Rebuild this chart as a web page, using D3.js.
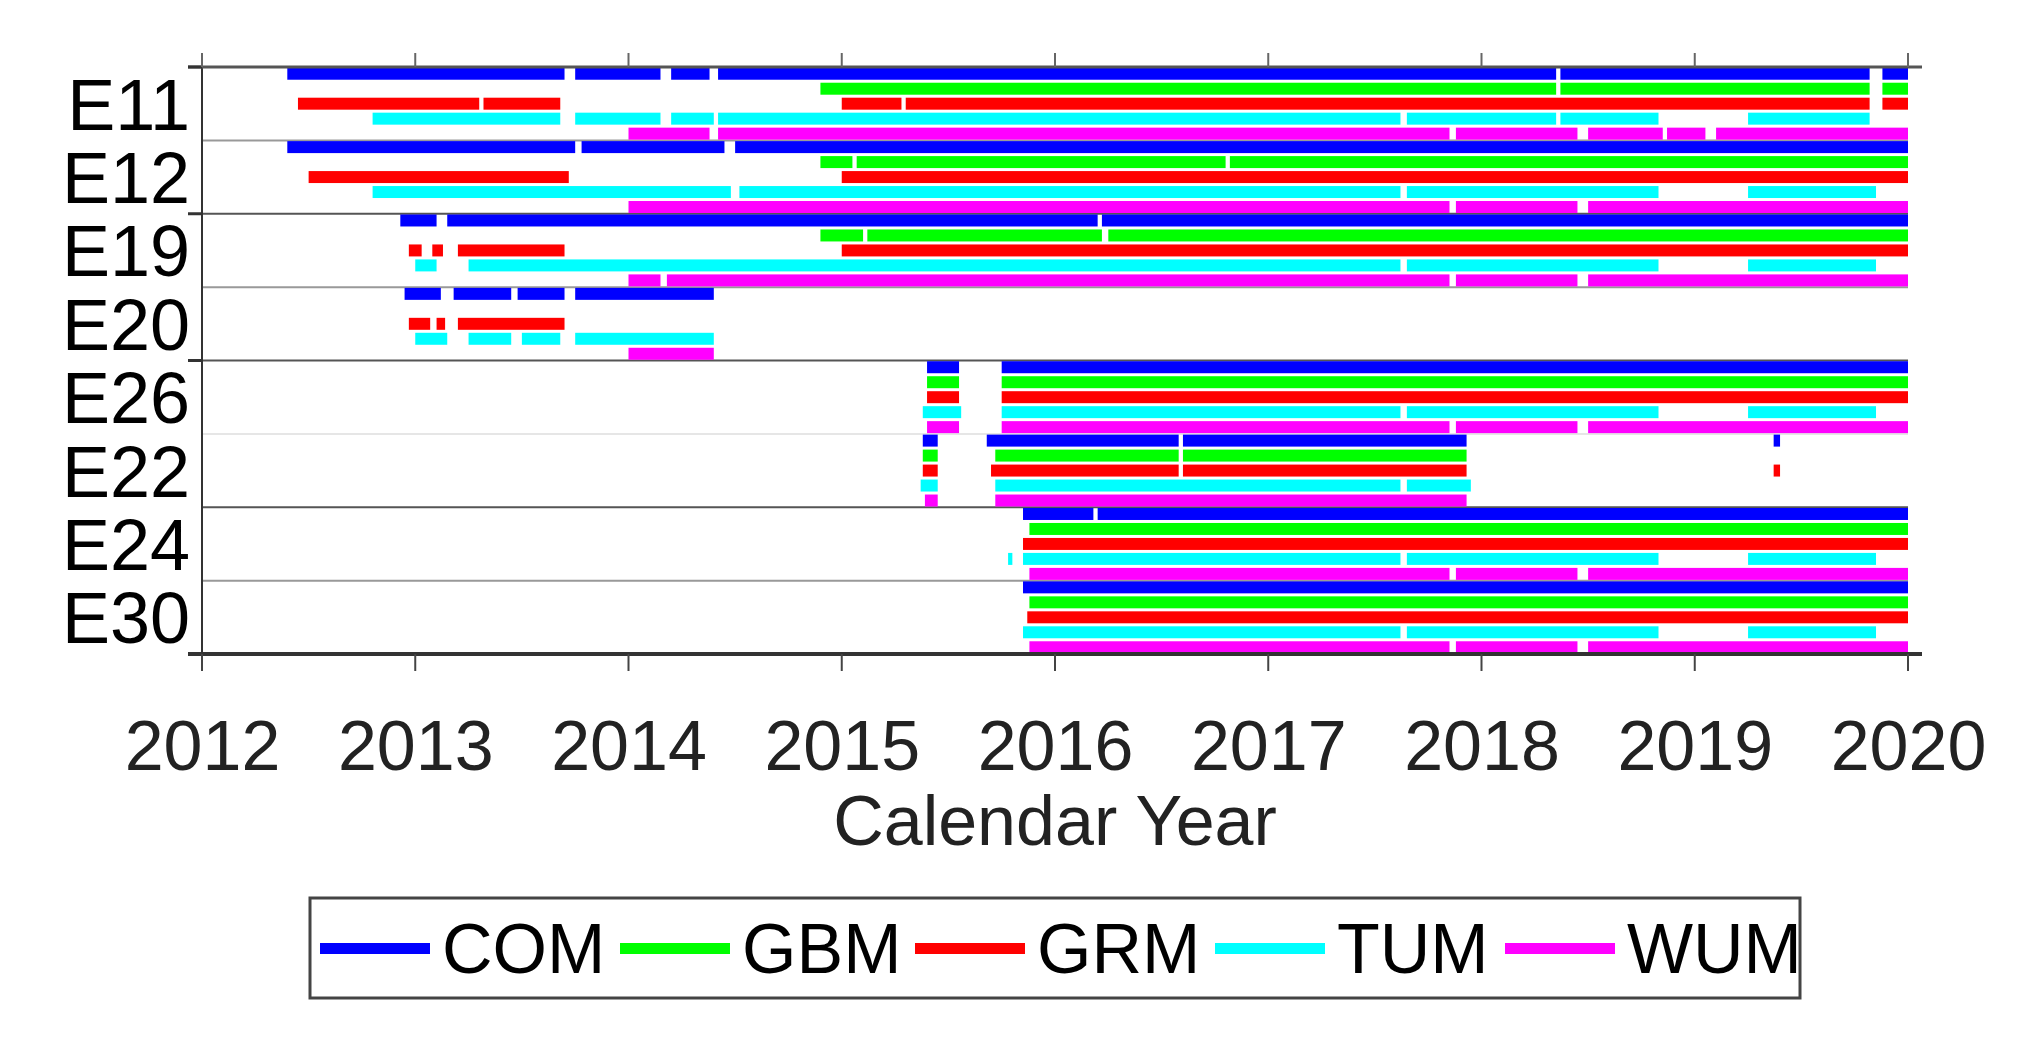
<!DOCTYPE html><html><head><meta charset="utf-8">
<script src="https://cdn.jsdelivr.net/npm/d3@7"></script>
<style>body{margin:0;background:#fff}text{font-family:"Liberation Sans",Arial,sans-serif}</style></head><body>
<svg id="c" width="2019" height="1041"></svg>
<script>
const sensors=["E11","E12","E19","E20","E26","E22","E24","E30"];
const series=["COM","GBM","GRM","TUM","WUM"];
const colors=["#0000ff","#00ff00","#ff0000","#00ffff","#ff00ff"];
const years=[2012,2013,2014,2015,2016,2017,2018,2019,2020];
const tumTail=[[2017.65,2018.83],[2019.25,2019.85]];
const wumTail=[[2018.5,2018.85],[2018.87,2019.05],[2019.1,2020]];
const E11=[[[2012.4,2013.7],[2013.75,2014.15],[2014.2,2014.38],[2014.42,2018.35],[2018.37,2019.82],[2019.88,2020]],
 [[2014.9,2018.35],[2018.37,2019.82],[2019.88,2020]],
 [[2012.45,2013.3],[2013.32,2013.68],[2015.0,2015.28],[2015.3,2019.82],[2019.88,2020]],
 [[2012.8,2013.68],[2013.75,2014.15],[2014.2,2014.4],[2014.42,2017.62],[2017.65,2018.35],[2018.37,2018.83],[2019.25,2019.82]],
 [[2014.0,2014.38],[2014.42,2017.85],[2017.88,2018.45],[2018.5,2018.85],[2018.87,2019.05],[2019.1,2020]]];
const E12=[[[2012.4,2013.75],[2013.78,2014.45],[2014.5,2020]],
 [[2014.9,2015.05],[2015.07,2016.8],[2016.82,2020]],
 [[2012.5,2013.72],[2015.0,2020]],
 [[2012.8,2014.48],[2014.52,2017.62],[2017.65,2018.83],[2019.25,2019.85]],
 [[2014.0,2017.85],[2017.88,2018.45],[2018.5,2020]]];
const E19=[[[2012.93,2013.1],[2013.15,2016.2],[2016.22,2020]],
 [[2014.9,2015.1],[2015.12,2016.22],[2016.25,2020]],
 [[2012.97,2013.03],[2013.08,2013.13],[2013.2,2013.7],[2015.0,2020]],
 [[2013.0,2013.1],[2013.25,2017.62],[2017.65,2018.83],[2019.25,2019.85]],
 [[2014.0,2014.15],[2014.18,2017.85],[2017.88,2018.45],[2018.5,2020]]];
const E20=[[[2012.95,2013.12],[2013.18,2013.45],[2013.48,2013.7],[2013.75,2014.4]],
 [],
 [[2012.97,2013.07],[2013.1,2013.14],[2013.2,2013.7]],
 [[2013.0,2013.15],[2013.25,2013.45],[2013.5,2013.68],[2013.75,2014.4]],
 [[2014.0,2014.4]]];
const E26=[[[2015.4,2015.55],[2015.75,2020]],
 [[2015.4,2015.55],[2015.75,2020]],
 [[2015.4,2015.55],[2015.75,2020]],
 [[2015.38,2015.56],[2015.75,2017.62],[2017.65,2018.83],[2019.25,2019.85]],
 [[2015.4,2015.55],[2015.75,2017.85],[2017.88,2018.45],[2018.5,2020]]];
const E22=[[[2015.38,2015.45],[2015.68,2016.58],[2016.6,2017.93],[2019.37,2019.4]],
 [[2015.38,2015.45],[2015.72,2016.58],[2016.6,2017.93]],
 [[2015.38,2015.45],[2015.7,2016.58],[2016.6,2017.93],[2019.37,2019.4]],
 [[2015.37,2015.45],[2015.72,2017.62],[2017.65,2017.95]],
 [[2015.39,2015.45],[2015.72,2017.93]]];
const E24=[[[2015.85,2016.18],[2016.2,2020]],
 [[2015.88,2020]],
 [[2015.85,2020]],
 [[2015.78,2015.8],[2015.85,2017.62],[2017.65,2018.83],[2019.25,2019.85]],
 [[2015.88,2017.85],[2017.88,2018.45],[2018.5,2020]]];
const E30=[[[2015.85,2020]],
 [[2015.88,2020]],
 [[2015.87,2020]],
 [[2015.85,2017.62],[2017.65,2018.83],[2019.25,2019.85]],
 [[2015.88,2017.85],[2017.88,2018.45],[2018.5,2020]]];
const rowsData=[E11,E12,E19,E20,E26,E22,E24,E30];

const svg=d3.select("#c");
const L=202,R=1908,T=67,B=654;
const x=d3.scaleLinear().domain([2012,2020]).range([L,R]);
const y=d3.scaleBand().domain(sensors).range([T,B]);
const sub=d3.scaleBand().domain(series).range([0,y.bandwidth()]).paddingInner(0.2).paddingOuter(0.05);

// row separators
sensors.forEach((s,i)=>{ if(i>0) svg.append("line").attr("x1",L).attr("x2",R).attr("y1",y(s)).attr("y2",y(s))
  .attr("stroke",i===5?"#e6e6e6":(i%2===0?"#555":"#999")).attr("stroke-width",2);});
// bars
rowsData.forEach((row,ri)=>{row.forEach((segs,si)=>{
  svg.append("g").selectAll("rect").data(segs).join("rect")
   .attr("x",d=>x(d[0])).attr("width",d=>Math.max(2,x(d[1])-x(d[0])))
   .attr("y",y(sensors[ri])+sub(series[si])).attr("height",sub.bandwidth())
   .attr("fill",colors[si]);
});});
// axes frame
svg.append("line").attr("x1",L).attr("x2",L).attr("y1",T).attr("y2",B).attr("stroke","#333").attr("stroke-width",2);
svg.append("line").attr("x1",L-14).attr("x2",R+14).attr("y1",B).attr("y2",B).attr("stroke","#333").attr("stroke-width",4);
svg.append("line").attr("x1",L-14).attr("x2",R+14).attr("y1",T).attr("y2",T).attr("stroke","#555").attr("stroke-width",3);
[0,2,4].forEach(i=>svg.append("line").attr("x1",L-14).attr("x2",L).attr("y1",y(sensors[i])).attr("y2",y(sensors[i])).attr("stroke","#333").attr("stroke-width",3));
const ax=d3.axisBottom(x).tickValues(years).tickFormat(d3.format("d")).tickSize(0);
const g=svg.append("g").attr("transform",`translate(0,${B})`).call(ax);
g.select(".domain").remove();
g.selectAll("text").attr("font-size",70).attr("fill","#222").attr("dy",0).attr("y",116);
years.forEach(v=>{svg.append("line").attr("x1",x(v)).attr("x2",x(v)).attr("y1",B).attr("y2",B+17).attr("stroke","#444").attr("stroke-width",2);
 svg.append("line").attr("x1",x(v)).attr("x2",x(v)).attr("y1",T-14).attr("y2",T).attr("stroke","#666").attr("stroke-width",2);});
// y labels
svg.append("g").selectAll("text").data(sensors).join("text").attr("x",190).attr("y",d=>y(d)+y.bandwidth()/2+26)
 .attr("text-anchor","end").attr("font-size",72).attr("fill","#000").text(d=>d);
svg.append("text").attr("x",x(2016)).attr("y",845).attr("text-anchor","middle").attr("font-size",70).attr("fill","#222").text("Calendar Year");
// legend
const lg=svg.append("g");
lg.append("rect").attr("x",310).attr("y",898).attr("width",1490).attr("height",100).attr("fill","#fff").attr("stroke","#444").attr("stroke-width",3);
const lx=[320,620,915,1215,1505];
series.forEach((s,i)=>{lg.append("rect").attr("x",lx[i]).attr("y",943).attr("width",110).attr("height",11).attr("fill",colors[i]);
 lg.append("text").attr("x",lx[i]+122).attr("y",973).attr("font-size",70).attr("fill","#000").text(s);});
</script></body></html>
